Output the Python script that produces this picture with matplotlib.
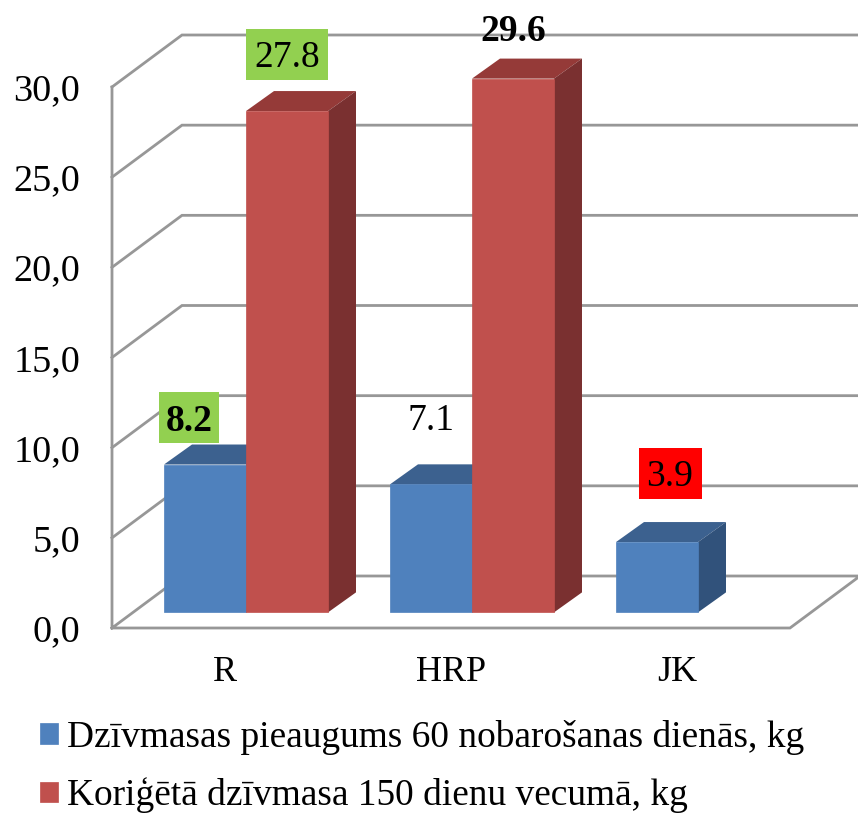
import numpy as np
import matplotlib
matplotlib.use('Agg')
import matplotlib.pyplot as plt
from matplotlib.patches import Rectangle

plt.rcParams['font.family'] = ['Liberation Serif', 'DejaVu Serif']

# dati
grupas = ['R', 'HRP', 'JK']
pieaugums = [8.2, 7.1, 3.9]
korigeta = [27.8, 29.6, np.nan]
asis_vertibas = [0, 5, 10, 15, 20, 25, 30]
asis_teksti = ['0,0', '5,0', '10,0', '15,0', '20,0', '25,0', '30,0']
nosaukumi = ['Dzīvmasas pieaugums 60 nobarošanas dienās, kg',
             'Koriģētā dzīvmasa 150 dienu vecumā, kg']

W, H = 858, 813
fig = plt.figure(figsize=(W/100, H/100), dpi=100)
ax = fig.add_axes([112/W, 1-628/H, 678/W, 541/H])
ax.set_xlim(0, 3)
ax.set_ylim(0, 30)
px_x = 3/678
px_y = 30/541

# 3D dziļums datu vienībās
dzx = 70*px_x
dzy = 52*px_y
platums = 82*px_x
nob_x = 0.3*dzx
nob_y = 0.3*dzy
st_x = 0.4*dzx
st_y = 0.385*dzy

# režģis un grīda
pel = '#979797'
for v in asis_vertibas:
    if v == 0:
        continue
    ax.plot([0, dzx, 3+dzx], [v, v+dzy, v+dzy], color=pel, lw=2.0, clip_on=False, zorder=1,
            solid_joinstyle='miter')
ax.plot([0, dzx, 3+dzx, 3, 0, 0], [0, dzy, dzy, 0, 0, 30], color=pel, lw=2.0, clip_on=False,
        zorder=1, solid_joinstyle='miter')


def stabini(centri, vertibas, krasa, krasa_aug, krasa_sans, nos, z):
    b = ax.bar(centri + nob_x, vertibas, platums, bottom=nob_y, color=krasa, edgecolor=krasa,
               lw=0.5, label=nos, zorder=z+2, clip_on=False)
    for c, v in zip(centri, vertibas):
        if np.isnan(v):
            continue
        k = c + nob_x - platums/2
        l = k + platums
        a = v + nob_y
        # augša
        ax.fill([k, k+st_x, l+st_x, l], [a, a+st_y, a+st_y, a], color=krasa_aug, lw=0,
                zorder=z+1, clip_on=False)
        # sāns
        ax.fill([l, l+st_x, l+st_x, l], [nob_y, nob_y+st_y, a+st_y, a], color=krasa_sans, lw=0,
                zorder=z+1, clip_on=False)
    return b


x = np.arange(len(grupas)) + 0.5
for i in range(len(grupas)):
    stabini(x[[i]] - platums/2, [pieaugums[i]], '#4F81BD', '#3C618F', '#31527B',
            nosaukumi[0] if i == 0 else None, 2+3*i)
    stabini(x[[i]] + platums/2, [korigeta[i]], '#C0504D', '#953A38', '#7A3030',
            nosaukumi[1] if i == 0 else None, 3+3*i)

ax.set_xticks(x)
ax.set_xticklabels(grupas)
ax.set_yticks(asis_vertibas)
ax.set_yticklabels(asis_teksti)
ax.tick_params(axis='y', length=0, pad=23, labelsize=27.5)
ax.tick_params(axis='x', length=0, pad=20, labelsize=26)
for s in ax.spines.values():
    s.set_visible(False)
ax.patch.set_visible(False)


# vērtību uzraksti: centrs pikseļos virs stabiņa, kastes izmērs pikseļos
def uzraksts(xc, v, nobide, teksts, fons=None, bw=82, bh=51, bold=False):
    yc = v + nob_y + nobide*px_y
    if fons:
        ax.add_patch(Rectangle((xc-bw*px_x/2, yc-bh*px_y/2), bw*px_x, bh*px_y, color=fons, lw=0,
                               zorder=30, clip_on=False))
    ax.text(xc, yc, teksts, ha='center', va='center_baseline', fontsize=27, zorder=31, clip_on=False,
            fontweight='bold' if bold else 'normal')


uzraksts(x[0] + nob_x + platums/2, korigeta[0], 57, '27.8', '#92D050')
uzraksts(x[1] + nob_x + platums/2, korigeta[1], 51, '29.6', bold=True)
uzraksts(x[0] + nob_x - platums/2 - 16*px_x, pieaugums[0], 47, '8.2', '#92D050', bw=60, bh=51, bold=True)
uzraksts(x[1] + nob_x - platums/2, pieaugums[1], 68, '7.1')
uzraksts(x[2] + nob_x - platums/2 + 13*px_x, pieaugums[2], 69, '3.9', '#FF0000', bw=63, bh=51)

fig.legend(loc='upper left', bbox_to_anchor=(40/W, 1-720/H), frameon=False, fontsize=26.9,
           handlelength=0.48, handleheight=0.48, handletextpad=0.24, labelspacing=0.6,
           borderpad=0, borderaxespad=0, labelcolor='black')

fig.savefig('out.png', dpi=100)
